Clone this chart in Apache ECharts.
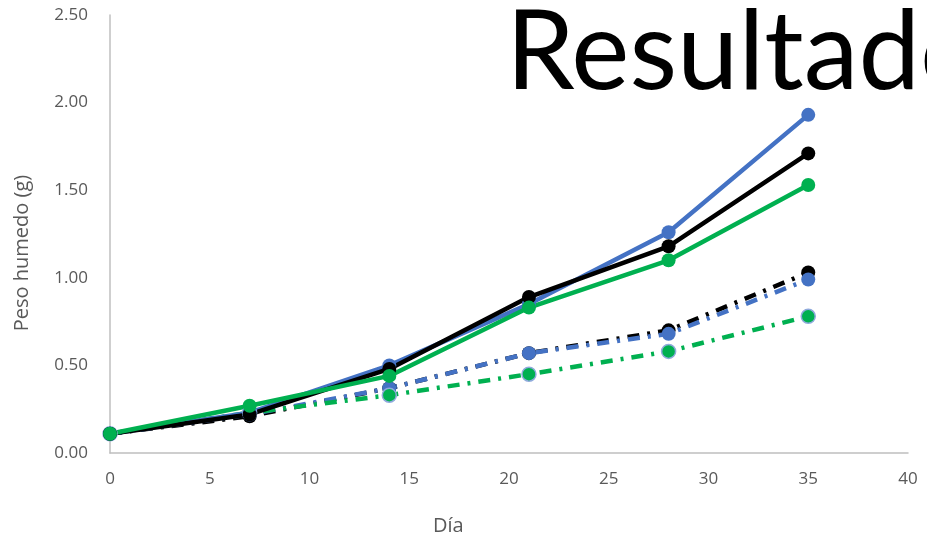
<!DOCTYPE html>
<html>
<head>
<meta charset="utf-8">
<script src="https://cdn.jsdelivr.net/npm/echarts@6/dist/echarts.min.js"></script>
<style>html,body{margin:0;padding:0;background:#fff}#c{width:927px;height:544px}</style>
</head>
<body>
<div id="c"></div>
<script>
const days = [0, 7, 14, 21, 28, 35];
const xTicks = [0, 5, 10, 15, 20, 25, 30, 35, 40];
const yTicks = [0, 0.5, 1.0, 1.5, 2.0, 2.5];
const solidBlack = [0.11, 0.22, 0.48, 0.89, 1.18, 1.71];
const solidBlue = [0.11, 0.23, 0.50, 0.85, 1.26, 1.93];
const solidGreen = [0.11, 0.27, 0.44, 0.83, 1.10, 1.53];
const dashBlack = [0.11, 0.21, 0.37, 0.57, 0.70, 1.03];
const dashBlue = [0.11, 0.22, 0.37, 0.57, 0.68, 0.99];
const dashGreen = [0.11, 0.23, 0.33, 0.45, 0.58, 0.78];
const titleText = 'Resultado';
const xName = 'Día';
const yName = 'Peso humedo (g)';

const pairs = arr => days.map((d, i) => [d, arr[i]]);
const dashPattern = [12, 8, 3, 8];
function mk(data, color, dashed, borderColor) {
  return {
    type: 'line', data: pairs(data), symbol: 'circle', symbolSize: 14,
    lineStyle: { color: color, width: 4.5, type: dashed ? dashPattern : 'solid', cap: 'butt' },
    itemStyle: { color: color, borderColor: borderColor || color, borderWidth: borderColor ? 1.5 : 0 },
    emphasis: { disabled: true }, animation: false, z: 2
  };
}
const chart = echarts.init(document.getElementById('c'));
chart.setOption({
  animation: false,
  grid: { left: 110, right: 19, top: 15, bottom: 91 },
  title: {
    text: titleText, left: 501, top: -6,
    textStyle: { fontFamily: 'Lato', fontWeight: 'normal', fontSize: 110, color: '#000' }
  },
  xAxis: {
    type: 'value', min: xTicks[0], max: xTicks[xTicks.length - 1], interval: 5,
    axisLine: { show: true, lineStyle: { color: '#bfbfbf', width: 1.5 } },
    axisTick: { show: false }, splitLine: { show: false },
    axisLabel: { color: '#595959', fontSize: 17, fontFamily: 'Open Sans', margin: 18 }
  },
  yAxis: {
    type: 'value', min: yTicks[0], max: yTicks[yTicks.length - 1], interval: 0.5,
    axisLine: { show: true, lineStyle: { color: '#bfbfbf', width: 1.5 } },
    axisTick: { show: false }, splitLine: { show: false },
    axisLabel: { color: '#595959', fontSize: 17, fontFamily: 'Open Sans', margin: 22, formatter: v => v.toFixed(2) }
  },
  graphic: [
    { type: 'text', left: 433, top: 516, style: { text: xName, fill: '#595959', font: '20px "Open Sans"' } },
    { type: 'text', x: 12, y: 253, rotation: Math.PI / 2, style: { text: yName, fill: '#595959', font: '20px "Open Sans"', textAlign: 'center', textVerticalAlign: 'top' } }
  ],
  series: [
    mk(dashBlack, '#000000', true),
    mk(dashBlue, '#4472C4', true),
    mk(dashGreen, '#00B050', true, '#8FAADC'),
    mk(solidBlue, '#4472C4', false),
    mk(solidBlack, '#000000', false),
    mk(solidGreen, '#00B050', false)
  ]
});
</script>
</body>
</html>
